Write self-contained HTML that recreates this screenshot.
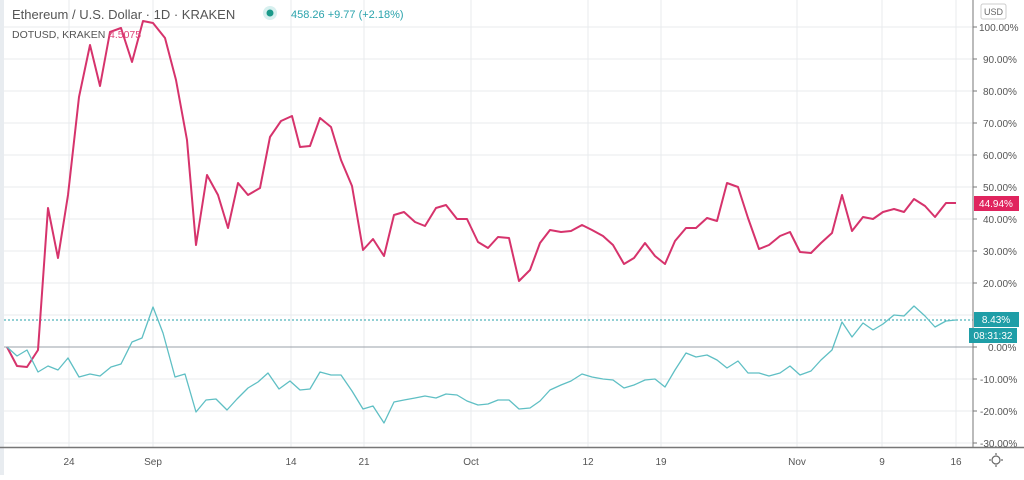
<!DOCTYPE html>
<html><head><meta charset="utf-8"><style>
html,body{margin:0;padding:0;background:#fff;}
body{width:1024px;height:475px;overflow:hidden;font-family:"Liberation Sans",sans-serif;}
</style></head><body>
<svg width="1024" height="475" viewBox="0 0 1024 475" xmlns="http://www.w3.org/2000/svg" font-family="Liberation Sans, sans-serif">
<rect width="1024" height="475" fill="#fff"/>
<rect x="0" y="0" width="4" height="475" fill="#e8ecf0"/>
<g stroke="#e9ebee" stroke-width="1">
<line x1="69" y1="0" x2="69" y2="447"/><line x1="153" y1="0" x2="153" y2="447"/><line x1="291" y1="0" x2="291" y2="447"/>
<line x1="364" y1="0" x2="364" y2="447"/><line x1="471" y1="0" x2="471" y2="447"/><line x1="588" y1="0" x2="588" y2="447"/>
<line x1="661" y1="0" x2="661" y2="447"/><line x1="797" y1="0" x2="797" y2="447"/><line x1="882" y1="0" x2="882" y2="447"/><line x1="956" y1="0" x2="956" y2="447"/>
<line x1="4" y1="27" x2="973" y2="27"/><line x1="4" y1="59" x2="973" y2="59"/><line x1="4" y1="91" x2="973" y2="91"/>
<line x1="4" y1="123" x2="973" y2="123"/><line x1="4" y1="155" x2="973" y2="155"/><line x1="4" y1="187" x2="973" y2="187"/>
<line x1="4" y1="219" x2="973" y2="219"/><line x1="4" y1="251" x2="973" y2="251"/><line x1="4" y1="283" x2="973" y2="283"/>
<line x1="4" y1="315" x2="973" y2="315"/><line x1="4" y1="379" x2="973" y2="379"/>
<line x1="4" y1="411" x2="973" y2="411"/><line x1="4" y1="443" x2="973" y2="443"/>
</g>
<line x1="4" y1="347" x2="973" y2="347" stroke="#9aa0a8" stroke-width="1"/>
<line x1="4" y1="320" x2="973" y2="320" stroke="#26a0a8" stroke-width="1" stroke-dasharray="2,2"/>
<line x1="973" y1="0" x2="973" y2="448" stroke="#777" stroke-width="1"/>
<line x1="0" y1="447.5" x2="1024" y2="447.5" stroke="#777" stroke-width="1.5"/>
<g font-size="10" fill="#555">
<text x="979" y="31">100.00%</text><text x="983" y="63">90.00%</text><text x="983" y="95">80.00%</text>
<text x="983" y="127">70.00%</text><text x="983" y="159">60.00%</text><text x="983" y="191">50.00%</text>
<text x="983" y="223">40.00%</text><text x="983" y="255">30.00%</text><text x="983" y="287">20.00%</text>
<text x="988" y="351">0.00%</text><text x="980" y="383">-10.00%</text>
<text x="980" y="415">-20.00%</text><text x="980" y="447">-30.00%</text>
</g>
<g stroke="#777" stroke-width="1">
<line x1="973" y1="27" x2="977" y2="27"/><line x1="973" y1="59" x2="977" y2="59"/><line x1="973" y1="91" x2="977" y2="91"/>
<line x1="973" y1="123" x2="977" y2="123"/><line x1="973" y1="155" x2="977" y2="155"/><line x1="973" y1="187" x2="977" y2="187"/>
<line x1="973" y1="219" x2="977" y2="219"/><line x1="973" y1="251" x2="977" y2="251"/><line x1="973" y1="283" x2="977" y2="283"/>
<line x1="973" y1="347" x2="977" y2="347"/><line x1="973" y1="379" x2="977" y2="379"/><line x1="973" y1="411" x2="977" y2="411"/><line x1="973" y1="443" x2="977" y2="443"/>
</g>
<g font-size="10" fill="#555" text-anchor="middle">
<text x="69" y="465">24</text><text x="153" y="465">Sep</text><text x="291" y="465">14</text><text x="364" y="465">21</text>
<text x="471" y="465">Oct</text><text x="588" y="465">12</text><text x="661" y="465">19</text><text x="797" y="465">Nov</text>
<text x="882" y="465">9</text><text x="956" y="465">16</text>
</g>
<g transform="translate(996,460)" stroke="#666" fill="none" stroke-width="1.2">
<circle r="4"/><line x1="0" y1="-7" x2="0" y2="-5"/><line x1="0" y1="5" x2="0" y2="7"/><line x1="-7" y1="0" x2="-5" y2="0"/><line x1="5" y1="0" x2="7" y2="0"/>
</g>
<rect x="981" y="4" width="25" height="15" rx="2" fill="#fff" stroke="#ccc"/>
<text x="993.5" y="15" font-size="9" fill="#666" text-anchor="middle">USD</text>

<polyline fill="none" stroke="#d6336c" stroke-width="2" stroke-linejoin="round" points="7,347 17,366 27,367 38,350 48,208 58,258 68,195 79,97 90,45 100,86 110,32 121,28 132,62 143,21 153,23 165,38 176,80 187,140 196,245 207,175 218,195 228,228 238,183 248,195 260,188 270,137 281,121 292,116 300,147 310,146 320,118 331,127 341,160 352,186 363,250 373,239 384,256 394,215 404,212 415,222 425,226 436,208 446,205 457,219 467,219 478,242 488,248 498,237 509,238 519,281 530,270 540,243 550,230 561,232 571,231 582,225 592,230 603,236 613,245 624,264 634,258 645,243 655,256 665,264 675,241 686,228 696,228 707,218 717,221 727,183 738,187 748,218 759,249 769,245 780,236 790,232 800,252 811,253 821,243 832,233 842,195 852,231 863,217 873,219 883,212 894,209 904,212 914,199 925,206 935,217 946,203 956,203"/>
<polyline fill="none" stroke="#5fbfc4" stroke-width="1.3" stroke-linejoin="round" points="7,347 17,356 27,350 38,372 48,366 58,370 68,358 79,377 90,374 100,376 111,367 121,364 132,342 142,338 153,307 163,333 175,377 185,374 196,412 206,400 216,399 227,410 237,399 248,388 258,382 268,373 279,389 290,381 300,390 310,389 320,372 331,375 341,375 352,391 363,409 373,406 384,423 394,402 404,400 415,398 425,396 436,398 446,394 457,395 467,401 478,405 488,404 498,400 509,400 519,409 530,408 540,401 550,390 561,385 571,381 582,374 592,377 603,379 613,380 624,388 634,385 645,380 655,379 665,387 675,370 686,353 696,357 707,355 717,360 727,368 738,361 748,373 759,373 769,376 780,373 790,366 800,375 811,371 821,360 832,350 842,322 852,337 863,323 873,330 883,324 894,315 904,316 914,306 925,316 935,327 946,321 956,320"/>

<rect x="974" y="196" width="45" height="15" fill="#e0245e"/>
<text x="996" y="207" font-size="10" fill="#fff" text-anchor="middle">44.94%</text>
<rect x="974" y="312" width="45" height="15" fill="#1f9ea7"/>
<text x="996" y="323" font-size="10" fill="#fff" text-anchor="middle">8.43%</text>
<rect x="969" y="328" width="48" height="15" fill="#1f9ea7"/>
<text x="993" y="339" font-size="10" fill="#fff" text-anchor="middle">08:31:32</text>

<text x="12" y="19" font-size="13" fill="#555">Ethereum / U.S. Dollar · 1D · KRAKEN</text>
<circle cx="270" cy="13" r="7" fill="#d7f0ef"/><circle cx="270" cy="13" r="3.5" fill="#1a9a8a"/>
<text x="291" y="18" font-size="11" fill="#2aa3ac">458.26 +9.77 (+2.18%)</text>
<text x="12" y="38" font-size="10.5" fill="#555">DOTUSD, KRAKEN</text>
<text x="109" y="38" font-size="10.5" fill="#e0457a">4.5075</text>
</svg>
</body></html>
